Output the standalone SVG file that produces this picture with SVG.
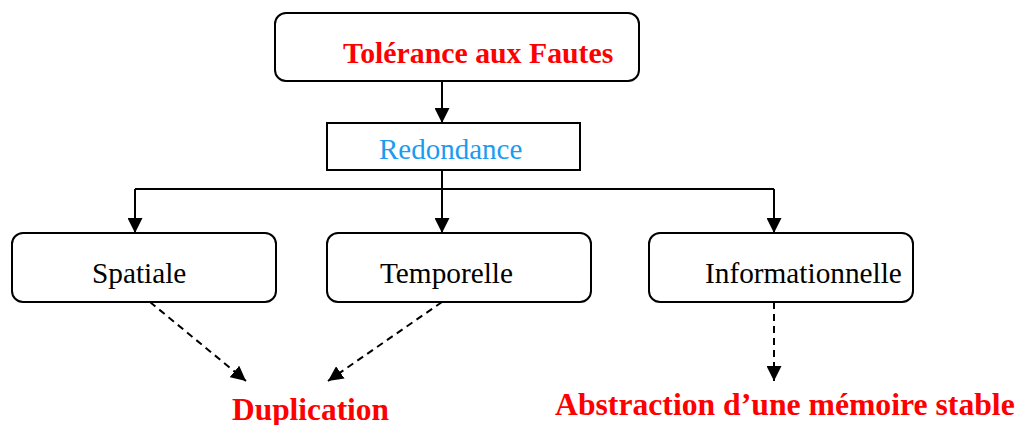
<svg xmlns="http://www.w3.org/2000/svg" width="1025" height="425" viewBox="0 0 1025 425">
  <style>
    .box { fill: #ffffff; stroke: #000000; stroke-width: 2; }
    .link { fill: none; stroke: #000000; stroke-width: 2; }
    .dash { stroke-dasharray: 7 5; }
    .lbl { font-family: "Liberation Serif", "Times New Roman", serif; font-size: 29.3px; fill: #000000; }
    .red { font-weight: bold; fill: #ff0000; }
    .blue { fill: #1a9cf0; }
  </style>
  <defs>
    <marker id="arrow" markerUnits="userSpaceOnUse" markerWidth="15" markerHeight="15" refX="15" refY="7.5" orient="auto">
      <path d="M0,0 L15,7.5 L0,15 z" fill="#000000"/>
    </marker>
  </defs>
  <rect width="1025" height="425" fill="#ffffff"/>

  <g id="connectors">
    <path class="link" d="M442,81 V123" marker-end="url(#arrow)"/>
    <path class="link" d="M442,170 V189 M135,189 H774"/>
    <path class="link" d="M135,189 V233" marker-end="url(#arrow)"/>
    <path class="link" d="M442,189 V233" marker-end="url(#arrow)"/>
    <path class="link" d="M774,189 V233" marker-end="url(#arrow)"/>
    <path class="link dash" d="M150,302 L246,381" marker-end="url(#arrow)"/>
    <path class="link dash" d="M442,302 L328,381" marker-end="url(#arrow)"/>
    <path class="link dash" d="M774,302 V381" marker-end="url(#arrow)"/>
  </g>

  <g id="tolerance">
    <rect class="box" x="275" y="13" width="364" height="68" rx="11"/>
    <text class="lbl red" x="343" y="63" style="font-size:29.8px">Tolérance aux Fautes</text>
  </g>
  <g id="redondance">
    <rect class="box" x="327" y="123" width="253" height="47"/>
    <text class="lbl blue" x="379" y="159" style="font-size:29px">Redondance</text>
  </g>
  <g id="spatiale">
    <rect class="box" x="12" y="233" width="264" height="69" rx="11"/>
    <text class="lbl" x="92" y="283">Spatiale</text>
  </g>
  <g id="temporelle">
    <rect class="box" x="327" y="233" width="264" height="69" rx="11"/>
    <text class="lbl" x="380" y="283">Temporelle</text>
  </g>
  <g id="informationnelle">
    <rect class="box" x="649" y="233" width="264" height="69" rx="11"/>
    <text class="lbl" x="705" y="283">Informationnelle</text>
  </g>
  <g id="duplication">
    <text class="lbl red" x="232" y="420" style="font-size:31.4px">Duplication</text>
  </g>
  <g id="memoire">
    <text class="lbl red" x="555" y="415" style="font-size:31.7px">Abstraction d’une mémoire stable</text>
  </g>
</svg>
